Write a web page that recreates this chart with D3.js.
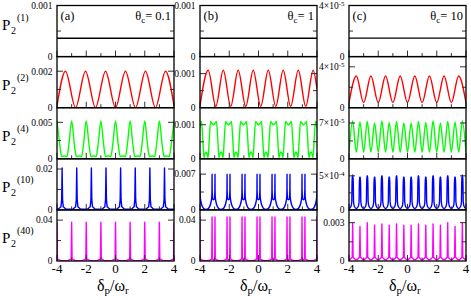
<!DOCTYPE html>
<html>
<head>
<meta charset="utf-8">
<script src="https://cdn.jsdelivr.net/npm/d3@7"></script>
<style>
body { margin: 0; background: #fff; }
svg { display: block; }
</style>
</head>
<body>
<div id="plot"></div>
<script>
// x axis (detuning)
var xMajor = [-4, -2, 0, 2, 4];
var xMinor = [-3, -1, 1, 3];
var xLabels = ["-4", "-2", "0", "2", "4"];

var rowNames = ["(1)", "(2)", "(4)", "(10)", "(40)"];
var colTags = ["(a)", "(b)", "(c)"];
var thetaVals = ["0.1", "1", "10"];
var lineColors = ["#000000", "#ff0000", "#00ff00", "#0000ff", "#ff00ff"];

// y range tops and labelled ticks, one per row
var yTopA = [0.001, 0.0028, 0.007, 0.025, 0.05];
var yTopB = [0.001, 0.0015, 0.0015, 0.01, 0.05];
var yTopC = [4e-5, 5e-5, 1e-4, 7.5e-4, 0.004];
var yTickA = [0.001, 0.002, 0.005, 0.02, 0.04];
var yTickB = [0.001, 0.001, 0.001, 0.007, 0.04];
var yTickC = [4e-5, 4e-5, 7e-5, 5e-4, 0.003];
var yLabA = [["0.001", ""], ["0.002", ""], ["0.005", ""], ["0.02", ""], ["0.04", ""]];
var yLabB = [["0.001", ""], ["0.001", ""], ["0.001", ""], ["0.007", ""], ["0.04", ""]];
var yLabC = [["4×10", "-5"], ["4×10", "-5"], ["7×10", "-5"], ["5×10", "-4"], ["0.003", ""]];

// ---- column (a), theta_c = 0.1
var a1 = [[-4, 0.00036], [4, 0.00036]];
var a2 = [[-4, 0.00011], [-3.42, 0.002], [-2.73, 0], [-2.05, 0.002], [-1.37, 0], [-0.68, 0.002], [0, 0],
  [0.68, 0.002], [1.37, 0], [2.05, 0.002], [2.73, 0], [3.42, 0.002], [4, 0.00011]];
var a3 = [[-4, 0.0052], [-3.82, 0.0021], [-3.68, 0.0003], [-3.5, 0.0004], [-3.32, 0.0003], [-3.18, 0.0021],
  [-3, 0.0052], [-2.82, 0.0021], [-2.68, 0.0003], [-2.5, 0.0004], [-2.32, 0.0003], [-2.18, 0.0021],
  [-2, 0.0052], [-1.82, 0.0021], [-1.68, 0.0003], [-1.5, 0.0004], [-1.32, 0.0003], [-1.18, 0.0021],
  [-1, 0.0052], [-0.82, 0.0021], [-0.68, 0.0003], [-0.5, 0.0004], [-0.32, 0.0003], [-0.18, 0.0021],
  [0, 0.0052], [0.18, 0.0021], [0.32, 0.0003], [0.5, 0.0004], [0.68, 0.0003], [0.82, 0.0021],
  [1, 0.0052], [1.18, 0.0021], [1.32, 0.0003], [1.5, 0.0004], [1.68, 0.0003], [1.82, 0.0021],
  [2, 0.0052], [2.18, 0.0021], [2.32, 0.0003], [2.5, 0.0004], [2.68, 0.0003], [2.82, 0.0021],
  [3, 0.0052], [3.18, 0.0021], [3.32, 0.0003], [3.5, 0.0004], [3.68, 0.0003], [3.82, 0.0021],
  [4, 0.0052]];
var a4 = [[-4, 0.0003],
  [-3.9, 0.0004], [-3.73, 0.0015], [-3.68, 0.005], [-3.65, 0.0205], [-3.62, 0.005], [-3.57, 0.0015], [-3.4, 0.0004], [-3.15, 0.0003],
  [-2.9, 0.0004], [-2.73, 0.0015], [-2.68, 0.005], [-2.65, 0.0205], [-2.62, 0.005], [-2.57, 0.0015], [-2.4, 0.0004], [-2.15, 0.0003],
  [-1.9, 0.0004], [-1.73, 0.0015], [-1.68, 0.005], [-1.65, 0.0205], [-1.62, 0.005], [-1.57, 0.0015], [-1.4, 0.0004], [-1.15, 0.0003],
  [-0.9, 0.0004], [-0.73, 0.0015], [-0.68, 0.005], [-0.65, 0.0205], [-0.62, 0.005], [-0.57, 0.0015], [-0.4, 0.0004], [-0.15, 0.0003],
  [0.1, 0.0004], [0.27, 0.0015], [0.32, 0.005], [0.35, 0.0205], [0.38, 0.005], [0.43, 0.0015], [0.6, 0.0004], [0.85, 0.0003],
  [1.1, 0.0004], [1.27, 0.0015], [1.32, 0.005], [1.35, 0.0205], [1.38, 0.005], [1.43, 0.0015], [1.6, 0.0004], [1.85, 0.0003],
  [2.1, 0.0004], [2.27, 0.0015], [2.32, 0.005], [2.35, 0.0205], [2.38, 0.005], [2.43, 0.0015], [2.6, 0.0004], [2.85, 0.0003],
  [3.1, 0.0004], [3.27, 0.0015], [3.32, 0.005], [3.35, 0.0205], [3.38, 0.005], [3.43, 0.0015], [3.6, 0.0004],
  [4, 0.0003]];
var a5 = [[-4, 0.038], [-3.97, 0.002], [-3.75, 0.0004], [-3.5, 0.0003], [-3.25, 0.0004], [-3.03, 0.002],
  [-3, 0.038], [-2.97, 0.002], [-2.75, 0.0004], [-2.5, 0.0003], [-2.25, 0.0004], [-2.03, 0.002],
  [-2, 0.038], [-1.97, 0.002], [-1.75, 0.0004], [-1.5, 0.0003], [-1.25, 0.0004], [-1.03, 0.002],
  [-1, 0.038], [-0.97, 0.002], [-0.75, 0.0004], [-0.5, 0.0003], [-0.25, 0.0004], [-0.03, 0.002],
  [0, 0.038], [0.03, 0.002], [0.25, 0.0004], [0.5, 0.0003], [0.75, 0.0004], [0.97, 0.002],
  [1, 0.038], [1.03, 0.002], [1.25, 0.0004], [1.5, 0.0003], [1.75, 0.0004], [1.97, 0.002],
  [2, 0.038], [2.03, 0.002], [2.25, 0.0004], [2.5, 0.0003], [2.75, 0.0004], [2.97, 0.002],
  [3, 0.038], [3.03, 0.002], [3.25, 0.0004], [3.5, 0.0003], [3.75, 0.0004], [3.97, 0.002],
  [4, 0.038]];

// ---- column (b), theta_c = 1 (features repeat every ~1.025)
var b1 = [[-4, 0.00036], [4, 0.00036]];
var b2 = [[-4, 0.00006], [-3.44, 0.0011], [-2.92, 0.00004], [-2.41, 0.0011], [-1.9, 0.00004], [-1.39, 0.0011],
  [-0.87, 0.00004], [-0.36, 0.0011], [0.15, 0.00004], [0.67, 0.0011], [1.18, 0.00004], [1.69, 0.0011],
  [2.2, 0.00004], [2.72, 0.0011], [3.23, 0.00004], [3.74, 0.0011], [4, 0.00055]];
var bCenters = [-4.1, -3.075, -2.05, -1.025, 0, 1.025, 2.05, 3.075, 4.1];
// profile around each centre: [offset, value]
var b3Shape = [[-0.2, 0.0011], [-0.1, 0.00104], [0, 0.001], [0.1, 0.00104], [0.2, 0.0011], [0.3, 0.0005],
  [0.37, 0.00004], [0.45, 0.00016], [0.51, 0.0002], [0.57, 0.00016], [0.655, 0.00004], [0.725, 0.0005]];
var b4Shape = [[-0.12, 0.0025], [-0.105, 0.004], [-0.1, 0.007], [-0.095, 0.004], [-0.05, 0.0021], [0, 0.002],
  [0.05, 0.0021], [0.095, 0.004], [0.1, 0.007], [0.105, 0.004], [0.12, 0.0025], [0.18, 0.0014],
  [0.27, 0.0006], [0.38, 0.0002], [0.51, 0.0001], [0.64, 0.0002], [0.75, 0.0006], [0.845, 0.0014]];
var b5Shape = [[-0.12, 0.002], [-0.1, 0.043], [-0.08, 0.002], [0, 0.001], [0.08, 0.002], [0.1, 0.043],
  [0.12, 0.002], [0.3, 0.0005], [0.51, 0.0004], [0.72, 0.0005]];

// ---- column (c), theta_c = 10
var c1 = [[-4, 1.45e-5], [4, 1.45e-5]];
var c2 = [[-4, 0.5e-5], [-3.5, 3.1e-5], [-3, 0.5e-5], [-2.5, 3.1e-5], [-2, 0.5e-5], [-1.5, 3.1e-5], [-1, 0.5e-5],
  [-0.5, 3.1e-5], [0, 0.5e-5], [0.5, 3.1e-5], [1, 0.5e-5], [1.5, 3.1e-5], [2, 0.5e-5], [2.5, 3.1e-5],
  [3, 0.5e-5], [3.5, 3.1e-5], [4, 0.5e-5]];
var c3 = [[-4, 1.3e-5], [-3.75, 7.4e-5], [-3.5, 1.3e-5], [-3.25, 7.2e-5], [-3, 1.3e-5], [-2.75, 7.3e-5], [-2.5, 1.3e-5],
  [-2.25, 7.0e-5], [-2, 1.3e-5], [-1.75, 7.4e-5], [-1.5, 1.3e-5], [-1.25, 7.1e-5], [-1, 1.3e-5], [-0.75, 7.3e-5],
  [-0.5, 1.3e-5], [-0.25, 7.0e-5], [0, 1.3e-5], [0.25, 7.0e-5], [0.5, 1.3e-5], [0.75, 7.3e-5], [1, 1.3e-5],
  [1.25, 7.1e-5], [1.5, 1.3e-5], [1.75, 7.4e-5], [2, 1.3e-5], [2.25, 7.0e-5], [2.5, 1.3e-5], [2.75, 7.3e-5],
  [3, 1.3e-5], [3.25, 7.2e-5], [3.5, 1.3e-5], [3.75, 7.4e-5], [4, 1.3e-5]];
var cPeaks = [-3.75, -3.25, -2.75, -2.25, -1.75, -1.25, -0.75, -0.25, 0.25, 0.75, 1.25, 1.75, 2.25, 2.75, 3.25, 3.75];
var c4Heights = [5.1e-4, 4.8e-4, 5.0e-4, 4.8e-4, 5.0e-4, 4.8e-4, 5.0e-4, 4.8e-4, 4.8e-4, 5.0e-4, 4.8e-4, 5.0e-4, 4.8e-4, 5.0e-4, 4.8e-4, 5.1e-4];
var c5Heights = [0.003, 0.0027, 0.003, 0.0028, 0.0029, 0.0028, 0.0029, 0.0028, 0.0028, 0.0029, 0.0028, 0.0029, 0.0028, 0.003, 0.0027, 0.003];

// place the listed shapes at the listed centres
function place(centres, shape, start, end) {
  var out = [start];
  centres.forEach(function(c) {
    shape.forEach(function(s) {
      if (c + s[0] > -4 && c + s[0] < 4) out.push([c + s[0], s[1]]);
    });
  });
  out.push(end);
  return out;
}
var b3 = place(bCenters, b3Shape, [-4, 0.0009], [4, 0.0009]);
var b4 = place(bCenters, b4Shape, [-4, 0.0012], [4, 0.0012]);
var b5 = place(bCenters, b5Shape, [-4, 0.0005], [4, 0.0005]);
var c4 = [[-4, 0.2e-4]], c5 = [[-4, 0.0001]];
cPeaks.forEach(function(p, i) {
  c4.push([p - 0.25, 0.2e-4], [p - 0.12, 0.5e-4], [p - 0.06, 1.2e-4], [p - 0.035, c4Heights[i]],
    [p + 0.035, c4Heights[i]], [p + 0.06, 1.2e-4], [p + 0.12, 0.5e-4]);
  c5.push([p - 0.2, 0.0001], [p - 0.03, 0.0003], [p, c5Heights[i]], [p + 0.03, 0.0003], [p + 0.2, 0.0001]);
});
c4.push([4, 0.2e-4]); c5.push([4, 0.0001]);

var W = 471, H = 300;
var colLeft = [57, 200, 349];
var panelW = 117;
var top0 = 5.5, rowH = 51.1;
var font = "'Liberation Serif', 'Times New Roman', serif";

var cols = [
  {tops: yTopA, ticks: yTickA, labs: yLabA, series: [a1, a2, a3, a4, a5]},
  {tops: yTopB, ticks: yTickB, labs: yLabB, series: [b1, b2, b3, b4, b5]},
  {tops: yTopC, ticks: yTickC, labs: yLabC, series: [c1, c2, c3, c4, c5]}
];
var curves = [d3.curveLinear, d3.curveMonotoneX, d3.curveMonotoneX, d3.curveLinear, d3.curveLinear];

var svg = d3.select("#plot").append("svg")
  .attr("width", W).attr("height", H)
  .attr("font-family", font);

var x = d3.scaleLinear().domain([-4, 4]).range([0, panelW]);

cols.forEach(function(col, ci) {
  col.series.forEach(function(data, ri) {
    var g = svg.append("g")
      .attr("transform", "translate(" + colLeft[ci] + "," + (top0 + ri * rowH) + ")");
    var y = d3.scaleLinear().domain([0, col.tops[ri]]).range([rowH, 0]);

    var clipId = "clip" + ci + ri;
    g.append("clipPath").attr("id", clipId)
      .append("rect").attr("width", panelW).attr("height", rowH);

    var crv = curves[ri];
    if (ci == 1 && ri == 3) crv = d3.curveMonotoneX;
    if (ci == 2 && ri == 3) crv = d3.curveMonotoneX;

    g.append("path")
      .datum(data)
      .attr("clip-path", "url(#" + clipId + ")")
      .attr("fill", "none")
      .attr("stroke", lineColors[ri])
      .attr("stroke-width", 1.4)
      .attr("stroke-linejoin", "round")
      .attr("d", d3.line()
        .curve(crv)
        .x(function(d) { return x(d[0]); })
        .y(function(d) { return y(d[1]); }));

    // inward ticks, bottom
    xMajor.forEach(function(v) {
      g.append("line").attr("x1", x(v)).attr("x2", x(v)).attr("y1", rowH).attr("y2", rowH - 6)
        .attr("stroke", "#333").attr("stroke-width", 1);
    });
    xMinor.forEach(function(v) {
      g.append("line").attr("x1", x(v)).attr("x2", x(v)).attr("y1", rowH).attr("y2", rowH - 3.5)
        .attr("stroke", "#333").attr("stroke-width", 1);
    });
    // inward ticks, left and right
    [[col.ticks[ri], 6], [col.ticks[ri] / 2, 4]].forEach(function(t) {
      var yy = y(t[0]);
      g.append("line").attr("x1", 0).attr("x2", t[1]).attr("y1", yy).attr("y2", yy)
        .attr("stroke", "#333").attr("stroke-width", 1);
      g.append("line").attr("x1", panelW).attr("x2", panelW - t[1]).attr("y1", yy).attr("y2", yy)
        .attr("stroke", "#333").attr("stroke-width", 1);
    });

    g.append("rect")
      .attr("width", panelW).attr("height", rowH)
      .attr("fill", "none").attr("stroke", "#000").attr("stroke-width", 1.3);

    // y tick labels
    g.append("text").attr("x", -4.5).attr("y", y(0)).attr("dy", "0.35em")
      .attr("text-anchor", "end").style("font-size", "9.5px").text("0");
    var lab = g.append("text").attr("x", -4.5).attr("y", y(col.ticks[ri])).attr("dy", "0.35em")
      .attr("text-anchor", "end").style("font-size", "9.5px");
    lab.append("tspan").text(col.labs[ri][0]);
    if (col.labs[ri][1]) {
      lab.append("tspan").attr("dy", "-0.45em").style("font-size", "7px").text(col.labs[ri][1]);
    }

    // x tick labels and title under the last row
    if (ri == 4) {
      xMajor.forEach(function(v, i) {
        g.append("text").attr("x", x(v)).attr("y", rowH + 12.5)
          .attr("text-anchor", "middle").style("font-size", "13px").text(xLabels[i]);
      });
      var t = g.append("text").attr("x", panelW / 2 - 18.5).attr("y", rowH + 30)
        .style("font-size", "16px");
      t.append("tspan").text("δ");
      t.append("tspan").attr("dy", 3).style("font-size", "11px").text("p");
      t.append("tspan").attr("dy", -3).text("/ω");
      t.append("tspan").attr("dy", 3).style("font-size", "11px").text("r");
    }
    if (ri == 0) {
      g.append("text").attr("x", 3.5).attr("y", 14).style("font-size", "12.5px").text(colTags[ci]);
      var th = g.append("text").attr("x", panelW - 3).attr("y", 14)
        .attr("text-anchor", "end").style("font-size", "12.5px");
      th.append("tspan").text("θ");
      th.append("tspan").attr("dy", 3).style("font-size", "9px").text("c");
      th.append("tspan").attr("dy", -3).text("= " + thetaVals[ci]);
    }
  });
});

// row titles P_2^(n)
rowNames.forEach(function(n, ri) {
  var base = top0 + ri * rowH + (ri == 0 ? 24 : 33);
  svg.append("text").attr("x", 2).attr("y", base).style("font-size", "15px").text("P");
  svg.append("text").attr("x", 11).attr("y", base + 4).style("font-size", "10px").text("2");
  svg.append("text").attr("x", 17).attr("y", base - 9).style("font-size", "10px").text(n);
});
</script>
</body>
</html>
